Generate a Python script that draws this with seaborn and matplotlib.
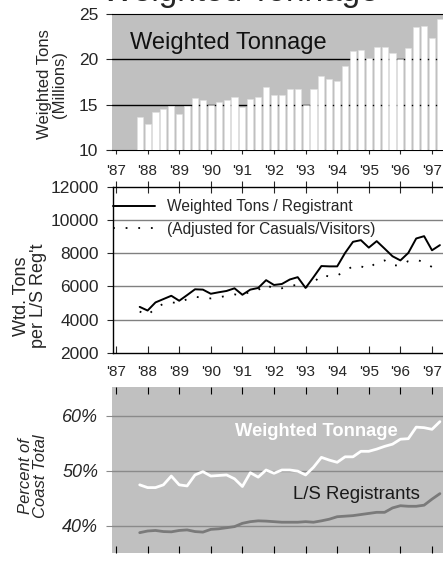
import matplotlib
matplotlib.use("Agg")
import matplotlib.pyplot as plt
import seaborn as sns
import numpy as np
import pandas as pd

# quarterly data, 1987 Q4 .. 1997 Q2
quarters = pd.period_range("1987Q4", "1997Q2", freq="Q")
qx = np.array([p.year + (p.quarter - 1) / 4 for p in quarters])

tonnage_mil = [13.6, 12.9, 14.2, 14.5, 14.9, 14.0, 14.8, 15.7, 15.5, 15.0,
               15.3, 15.55, 15.8, 14.7, 15.6, 15.8, 16.9, 16.1, 16.1, 16.7,
               16.7, 15.0, 16.7, 18.2, 17.8, 17.6, 19.3, 20.9, 21.0, 20.1,
               21.4, 21.4, 20.7, 20.0, 21.2, 23.6, 23.7, 22.3, 24.4]

tons_per_reg = [4760, 4540, 5030, 5230, 5430, 5130, 5470, 5820, 5800, 5550,
                5640, 5720, 5880, 5490, 5800, 5900, 6370, 6080, 6140, 6410,
                6550, 5900, 6550, 7220, 7200, 7200, 8010, 8680, 8780, 8330,
                8720, 8270, 7810, 7560, 8010, 8880, 9020, 8170, 8480]

tons_per_reg_adj = [4480, 4260, 4680, 4950, 5030, 4990, 5230, 5370, 5310, 5270,
                    5330, 5430, 5510, 5470, 5680, 5780, 6100, 5840, 5880, 6040,
                    6080, 5940, 6200, 6690, 6590, 6650, 6910, 7220, 7200, 7060,
                    7460, 7560, 7260, 7260, 7520, 7600, 7460, 7160, 7560]

pct_tonnage = [47.4, 46.9, 46.9, 47.4, 49.0, 47.4, 47.2, 49.2, 49.8, 49.0,
               49.1, 49.2, 48.5, 47.1, 49.6, 48.8, 50.1, 49.5, 50.1, 50.1,
               49.9, 49.2, 50.6, 52.4, 51.9, 51.5, 52.5, 52.5, 53.5, 53.5,
               53.9, 54.4, 54.8, 55.7, 55.8, 57.9, 57.8, 57.5, 58.9]

pct_regs = [38.7, 39.0, 39.1, 38.9, 38.85, 39.1, 39.2, 38.9, 38.8, 39.3,
            39.4, 39.6, 39.8, 40.4, 40.7, 40.85, 40.8, 40.7, 40.6, 40.6,
            40.6, 40.7, 40.6, 40.85, 41.15, 41.6, 41.7, 41.8, 42.0, 42.2,
            42.4, 42.4, 43.2, 43.6, 43.5, 43.5, 43.7, 44.8, 45.8]

years = list(range(1987, 1998))
year_labels = ["'87", "'88", "'89", "'90", "'91", "'92", "'93", "'94", "'95", "'96", "'97"]

sns.set_style("ticks")
plt.rcParams["font.family"] = ["Liberation Sans", "DejaVu Sans"]

W, H = 443, 565
fig = plt.figure(figsize=(W / 100, H / 100), dpi=100)

def box(l, t, r, b):
    return [l / W, 1 - b / H, (r - l) / W, (b - t) / H]

GRAY = "#c0c0c0"
x_left = 1987 - 4 / 31.6
x_right = 1987 + 327 / 31.6

# title, mostly cut off by the top edge (as in the source image)
fig.text(240 / W, 1 - 1 / H, "Weighted Tonnage", fontsize=24, ha="center", va="baseline")

# ---- top: weighted tonnage bars
ax1 = fig.add_axes(box(112, 14, 443, 150))
ax1.set_facecolor(GRAY)
sns.barplot(x=qx, y=tonnage_mil, native_scale=True, width=0.76, color="white",
            saturation=1, edgecolor="#e0e0e0", linewidth=0.4, ax=ax1, zorder=3)
ax1.set_xlim(x_left, x_right)
ax1.set_ylim(10, 25)
ax1.set_yticks([10, 15, 20, 25])
for v in [15, 20]:
    ax1.axhline(v, color="black", lw=1, zorder=1)
for s in ["left", "right"]:
    ax1.spines[s].set_visible(False)
ax1.spines["top"].set_color("black")
ax1.spines["bottom"].set_color("black")
ax1.spines["bottom"].set_linewidth(0.8)
ax1.set_xticks(years)
ax1.set_xticklabels(year_labels)
ax1.tick_params(axis="x", direction="out", length=3, pad=7, labelsize=11)
ax1.tick_params(axis="y", direction="out", length=4, pad=6, labelsize=12.5)
ax1.text(0.055, 0.79, "Weighted Tonnage", transform=ax1.transAxes, fontsize=17,
         ha="left", va="center", color="#111111")
ax1.set_xlabel("")
fig.text(52 / W, 1 - 84 / H, "Weighted Tons\n(Millions)", rotation=90, fontsize=12,
         ha="center", va="center", linespacing=0.95)

# ---- middle: tons per registrant
ax2 = fig.add_axes(box(113, 186.7, 443, 352.7))
ax2.set_facecolor("white")
sns.lineplot(x=qx, y=tons_per_reg, color="black", lw=1.4, ax=ax2,
             label="Weighted Tons / Registrant")
sns.lineplot(x=qx, y=tons_per_reg_adj, color="black", lw=1.3, ax=ax2,
             linestyle=(0, (1, 6)), label="(Adjusted for Casuals/Visitors)")
ax2.set_xlim(x_left + 1 / 31.6, x_right)
ax2.set_ylim(2000, 12000)
ax2.set_yticks([2000, 4000, 6000, 8000, 10000, 12000])
for v in [4000, 6000, 8000, 10000]:
    ax2.axhline(v, color="#808080", lw=1, zorder=0)
ax2.spines["right"].set_visible(False)
for s in ["left", "top", "bottom"]:
    ax2.spines[s].set_color("black")
    ax2.spines[s].set_linewidth(1)
ax2.set_xticks(years)
ax2.set_xticklabels(year_labels)
ax2.tick_params(axis="x", bottom=True, top=True, direction="in", length=5, pad=9,
                labelsize=11)
for t in ax2.xaxis.get_major_ticks():
    t.tick2line.set_marker("|")
    t.tick2line.set_markersize(8)
ax2.tick_params(axis="y", direction="out", length=4, pad=6, labelsize=12.5)
leg = ax2.legend(loc="upper left", bbox_to_anchor=(0.0, 0.925), frameon=False,
                 fontsize=11.2, handlelength=2.7, handletextpad=0.8,
                 labelspacing=0.5, borderaxespad=0, borderpad=0)
ax2.set_xlabel("")
fig.text(30 / W, 1 - 296 / H, "Wtd. Tons\nper L/S Reg't", rotation=90, fontsize=13,
         ha="center", va="center", linespacing=0.95)

# ---- bottom: percent of coast total
ax3 = fig.add_axes(box(112, 387, 443, 553))
ax3.set_facecolor(GRAY)
sns.lineplot(x=qx, y=pct_tonnage, color="white", lw=2, ax=ax3)
sns.lineplot(x=qx, y=pct_regs, color="#7a7a7a", lw=2, ax=ax3)
ax3.set_xlim(x_left, x_right)
ax3.set_ylim(35.0, 65.2)
ax3.set_yticks([40, 50, 60])
ax3.set_yticklabels(["40%", "50%", "60%"], style="italic")
for v in [40, 50, 60]:
    ax3.axhline(v, color="#8a8a8a", lw=1, zorder=0)
for s in ax3.spines.values():
    s.set_visible(False)
ax3.set_xticks(years)
ax3.tick_params(axis="x", bottom=True, top=True, direction="in", length=5,
                labelbottom=False, color="black")
ax3.tick_params(axis="y", direction="out", length=4, pad=6, labelsize=13,
                color="#8a8a8a")
ax3.text(0.616, 0.73, "Weighted Tonnage", transform=ax3.transAxes, fontsize=13.2,
         fontweight="bold", color="white", ha="center", va="center")
ax3.text(0.738, 0.35, "L/S Registrants", transform=ax3.transAxes, fontsize=13.4,
         color="#1a1a1a", ha="center", va="center")
ax3.set_xlabel("")
fig.text(33 / W, 1 - 476 / H, "Percent of\nCoast Total", rotation=90, fontsize=12,
         style="italic", ha="center", va="center", linespacing=0.95)

fig.savefig("out.png", dpi=100)
